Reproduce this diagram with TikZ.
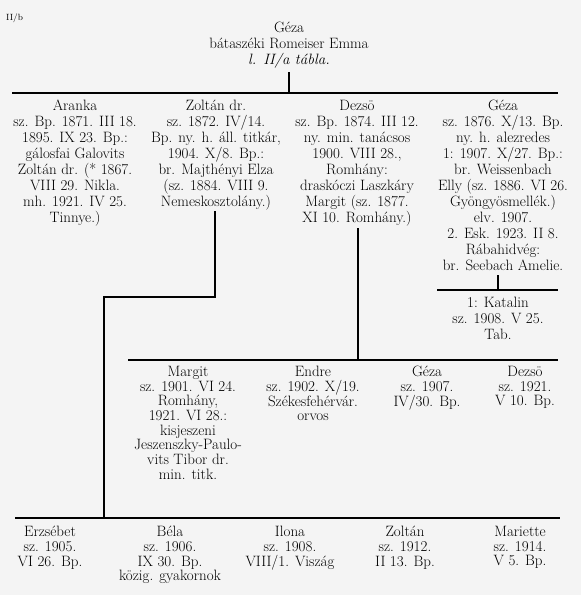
\documentclass[tikz,border=0pt]{standalone}
\usepackage{fontspec}
\definecolor{paper}{HTML}{F4F4F4}
\newcommand\gentext{\fontsize{15}{16}\selectfont\addfontfeatures{LetterSpace=9,WordSpace=1.4,FakeBold=1.2}}
\newcommand\gentextb{\fontsize{15}{14.7}\selectfont\addfontfeatures{LetterSpace=9,WordSpace=1.4,FakeBold=1.2}}
\begin{document}
\begin{tikzpicture}[x=1pt,y=-1pt,
  every node/.style={inner sep=0pt},
  entry/.style={align=center, anchor=north, font=\gentext, execute at begin node={\rule{0pt}{12pt}}},
  entryb/.style={align=center, anchor=north, font=\gentextb, execute at begin node={\rule{0pt}{12pt}}},
  bar/.style={line width=1.5pt},
  stem/.style={line width=1.8pt}]
\fill[paper] (0,0) rectangle (581,595);
\useasboundingbox (0,0) rectangle (581,595);

\node[anchor=base west, font=\fontsize{9}{10}\selectfont] (tab) at (6,20) {II/b};
\node[entry] (parents) at (289,22) {Géza\\bátaszéki Romeiser Emma\\\itshape l. II/a tábla.};

\coordinate (ptop) at (289,72);
\coordinate (pbar) at (289,93);
\coordinate (b1l) at (12,93);
\coordinate (b1r) at (558,93);
\draw[stem] (ptop) -- (pbar);
\draw[bar] (b1l) -- (b1r);

% generation 1
\node[entry] (aranka) at (75,100) {Aranka\\sz. Bp. 1871. III 18.\\1895. IX 23. Bp.:\\gálosfai Galovits\\Zoltán dr. (* 1867.\\VIII 29. Nikla.\\mh. 1921. IV 25.\\Tinnye.)};
\node[entry] (zoltan) at (216,100) {Zoltán dr.\\sz. 1872. IV/14.\\Bp. ny. h. áll. titkár,\\1904. X/8. Bp.:\\br. Majthényi Elza\\(sz. 1884. VIII 9.\\Nemeskosztolány.)};
\node[entry] (dezso) at (357,100) {Dezsö\\sz. Bp. 1874. III 12.\\ny. min. tanácsos\\1900. VIII 28.,\\Romhány:\\draskóczi Laszkáry\\Margit (sz. 1877.\\XI 10. Romhány.)};
\node[entry] (geza) at (503,100) {Géza\\sz. 1876. X/13. Bp.\\ny. h. alezredes\\1: 1907. X/27. Bp.:\\br. Weissenbach\\Elly (sz. 1886. VI 26.\\Gyöngyösmellék.)\\elv. 1907.\\2. Esk. 1923. II 8.\\Rábahidvég:\\br. Seebach Amelie.};

% Geza's daughter
\coordinate (gtop) at (498,275);
\coordinate (gbar) at (498,290);
\coordinate (gbl) at (437,290);
\coordinate (gbr) at (558,290);
\draw[stem] (gtop) -- (gbar);
\draw[bar] (gbl) -- (gbr);
\node[entry] (katalin) at (498,297) {1: Katalin\\sz. 1908. V 25.\\Tab.};

% Dezso's children
\coordinate (dtop) at (358,228);
\coordinate (dbar) at (358,360);
\coordinate (dbl) at (128,360);
\coordinate (dbr) at (558,360);
\draw[stem] (dtop) -- (dbar);
\draw[bar] (dbl) -- (dbr);
\node[entryb] (margit) at (188,366) {Margit\\sz. 1901. VI 24.\\Romhány,\\1921. VI 28.:\\kisjeszeni\\Jeszenszky-Paulo-\\vits Tibor dr.\\min. titk.};
\node[entryb] (endre) at (313,366) {Endre\\sz. 1902. X/19.\\Székesfehérvár.\\orvos};
\node[entryb] (geza2) at (427,366) {Géza\\sz. 1907.\\IV/30. Bp.};
\node[entryb] (dezso2) at (525,366) {Dezsö\\sz. 1921.\\V 10. Bp.};

% Zoltan's children
\coordinate (ztop) at (215,211);
\coordinate (zknee) at (215,297);
\coordinate (zknee2) at (104,297);
\coordinate (zbar) at (104,518);
\coordinate (zbl) at (15,518);
\coordinate (zbr) at (560,518);
\draw[stem] (ztop) -- (zknee) -- (zknee2) -- (zbar);
\draw[bar] (zbl) -- (zbr);
\node[entryb] (erzsebet) at (50,526) {Erzsébet\\sz. 1905.\\VI 26. Bp.};
\node[entryb] (bela) at (170,526) {Béla\\sz. 1906.\\IX 30. Bp.\\közig. gyakornok};
\node[entryb] (ilona) at (290,526) {Ilona\\sz. 1908.\\VIII/1. Viszág};
\node[entryb] (zoltan2) at (405,526) {Zoltán\\sz. 1912.\\II 13. Bp.};
\node[entryb] (mariette) at (520,526) {Mariette\\sz. 1914.\\V 5. Bp.};
\end{tikzpicture}
\end{document}
